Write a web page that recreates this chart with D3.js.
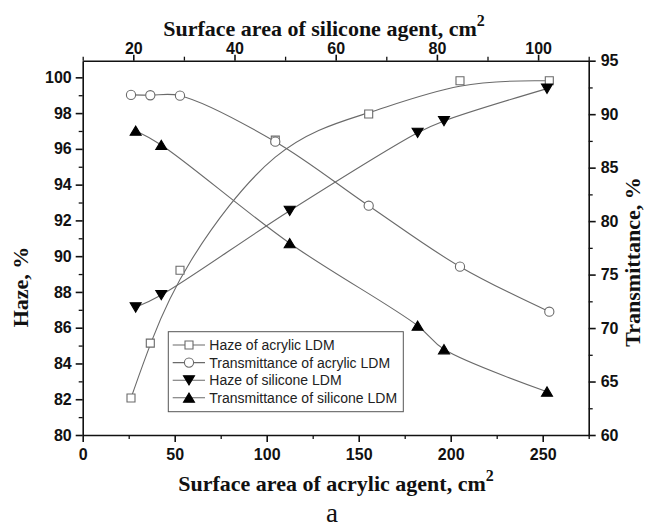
<!DOCTYPE html>
<html>
<head>
<meta charset="utf-8">
<script src="https://cdn.jsdelivr.net/npm/d3@7"></script>
<style>
  html, body { margin: 0; padding: 0; background: #fff; }
  svg { display: block; }
  .tick text { font-family: "Liberation Sans", Arial, sans-serif; font-weight: bold; font-size: 16px; fill: #111; }
  .title { font-family: "Liberation Serif", "Times New Roman", serif; font-weight: bold; font-size: 22px; fill: #111; }
</style>
</head>
<body>
<svg id="chart" width="647" height="528"></svg>
<script>
// Acrylic light-diffusing material (bottom axis)
const acrylicArea  = [26.25, 36.74, 52.88, 104.67, 155.43, 205.05, 253.59];
const acrylicHaze  = [82.07, 85.14, 89.21, 96.49, 97.95, 99.81, 99.81];
const acrylicTrans = [91.80, 91.77, 91.73, 87.43, 81.44, 75.74, 71.53];

// Silicone light-diffusing material (top axis)
const siliconeArea  = [20.47, 25.53, 50.91, 76.19, 81.40, 101.76];
const siliconeHaze  = [87.14, 87.83, 92.54, 96.90, 97.56, 99.37];
const siliconeTrans = [88.45, 87.12, 77.93, 70.22, 68.01, 64.05];

const bottomTicks = [0, 50, 100, 150, 200, 250];
const topTicks    = [20, 40, 60, 80, 100];
const hazeTicks   = [80, 82, 84, 86, 88, 90, 92, 94, 96, 98, 100];
const transTicks  = [60, 65, 70, 75, 80, 85, 90, 95];

const legendLabels = [
  "Haze of acrylic LDM",
  "Transmittance of acrylic LDM",
  "Haze of silicone LDM",
  "Transmittance of silicone LDM"
];

const svg = d3.select("#chart");
const L = 82.7, R = 588.7, T = 60.7, B = 435;

const xBottom = d3.scaleLinear().domain([0, 275]).range([L, R]);
const xTop    = d3.scaleLinear().domain([10, 110]).range([L, R]);
const yHaze   = d3.scaleLinear().domain([80, 100.93]).range([B, T]);
const yTrans  = d3.scaleLinear().domain([60, 95]).range([B, T]);

const axisColor = "#111";
const lineColor = "#6a6a6a";

// minor ticks first, majors on top
function minor(g, axis) {
  g.call(axis.tickFormat(""));
  g.select(".domain").remove();
  g.selectAll("line").attr("stroke", axisColor).attr("stroke-width", 1.3);
}
function major(g, axis) {
  g.call(axis);
  g.select(".domain").attr("stroke", axisColor).attr("stroke-width", 1.6);
  g.selectAll(".tick line").attr("stroke", axisColor).attr("stroke-width", 1.6);
}

// bottom
svg.append("g").attr("transform", `translate(0,${B})`)
  .call(g => minor(g, d3.axisBottom(xBottom).tickValues(d3.range(25, 276, 50)).tickSizeInner(4).tickSizeOuter(0)));
svg.append("g").attr("transform", `translate(0,${B})`)
  .call(g => major(g, d3.axisBottom(xBottom).tickValues(bottomTicks).tickSizeInner(7).tickSizeOuter(0).tickPadding(7)));
// top
svg.append("g").attr("transform", `translate(0,${T})`)
  .call(g => minor(g, d3.axisTop(xTop).tickValues(d3.range(10, 111, 20)).tickSizeInner(4).tickSizeOuter(0)));
svg.append("g").attr("transform", `translate(0,${T})`)
  .call(g => major(g, d3.axisTop(xTop).tickValues(topTicks).tickSizeInner(6).tickSizeOuter(0).tickPadding(1)));
// left
svg.append("g").attr("transform", `translate(${L},0)`)
  .call(g => minor(g, d3.axisLeft(yHaze).tickValues(d3.range(81, 100, 2)).tickSizeInner(4).tickSizeOuter(0)));
svg.append("g").attr("transform", `translate(${L},0)`)
  .call(g => major(g, d3.axisLeft(yHaze).tickValues(hazeTicks).tickSizeInner(7).tickSizeOuter(0).tickPadding(4)));
// right
svg.append("g").attr("transform", `translate(${R},0)`)
  .call(g => minor(g, d3.axisRight(yTrans).tickValues(d3.range(62.5, 95, 5)).tickSizeInner(4).tickSizeOuter(0)));
svg.append("g").attr("transform", `translate(${R},0)`)
  .call(g => major(g, d3.axisRight(yTrans).tickValues(transTicks).tickSizeInner(7).tickSizeOuter(0).tickPadding(5)));

// axis titles
function titleWithSup(x, y, text) {
  const t = svg.append("text").attr("class", "title").attr("x", x).attr("y", y).attr("text-anchor", "middle");
  t.append("tspan").text(text);
  t.append("tspan").attr("dy", -10).attr("font-size", 16).text("2");
}
titleWithSup(336, 491, "Surface area of acrylic agent, cm");
titleWithSup(324, 36, "Surface area of silicone agent, cm");

svg.append("text").attr("class", "title")
  .attr("transform", "translate(28,287) rotate(-90)")
  .attr("text-anchor", "middle").text("Haze, %");
svg.append("text").attr("class", "title")
  .attr("transform", "translate(640,262) rotate(-90)")
  .attr("text-anchor", "middle").text("Transmittance, %");

svg.append("text")
  .attr("x", 332).attr("y", 522).attr("text-anchor", "middle")
  .attr("font-family", "Liberation Serif, Times New Roman, serif")
  .attr("font-size", 27).attr("fill", "#111").text("a");

// markers
const markerShapes = {
  square: (s) => `M${-s},${-s}H${s}V${s}H${-s}Z`,
  circle: (s) => `M${s},0A${s},${s} 0 1,1 ${-s},0A${s},${s} 0 1,1 ${s},0Z`,
  down:   (s) => `M${-s * 1.1},${-s * 0.9}H${s * 1.1}L0,${s * 0.95}Z`,
  up:     (s) => `M${-s * 1.1},${s * 0.9}H${s * 1.1}L0,${-s * 0.95}Z`
};

const series = [
  { xs: acrylicArea, ys: acrylicHaze, x: xBottom, y: yHaze, shape: "square", size: 4, fill: "#fff", stroke: "#6a6a6a", curve: d3.curveBasis },
  { xs: acrylicArea, ys: acrylicTrans, x: xBottom, y: yTrans, shape: "circle", size: 4.6, fill: "#fff", stroke: "#6a6a6a", curve: d3.curveCatmullRom },
  { xs: siliconeArea, ys: siliconeHaze, x: xTop, y: yHaze, shape: "down", size: 5, fill: "#000", stroke: "#000", curve: d3.curveCatmullRom },
  { xs: siliconeArea, ys: siliconeTrans, x: xTop, y: yTrans, shape: "up", size: 5, fill: "#000", stroke: "#000", curve: d3.curveCatmullRom }
];

series.forEach(s => {
  const pts = s.xs.map((v, i) => [s.x(v), s.y(s.ys[i])]);
  svg.append("path")
    .attr("d", d3.line().curve(s.curve)(pts))
    .attr("fill", "none").attr("stroke", lineColor).attr("stroke-width", 1.1);
});
series.forEach(s => {
  svg.append("g").selectAll("path").data(s.xs).join("path")
    .attr("transform", (v, i) => `translate(${s.x(v)},${s.y(s.ys[i])})`)
    .attr("d", markerShapes[s.shape](s.size))
    .attr("fill", s.fill).attr("stroke", s.stroke).attr("stroke-width", 1.1);
});

// legend
const lg = svg.append("g");
lg.append("rect").attr("x", 168.3).attr("y", 331.7).attr("width", 235).attr("height", 80)
  .attr("fill", "#fff").attr("stroke", "#555").attr("stroke-width", 1);
legendLabels.forEach((lab, i) => {
  const cy = 345 + i * 17.6;
  const s = series[i];
  lg.append("line").attr("x1", 172.7).attr("x2", 205).attr("y1", cy).attr("y2", cy)
    .attr("stroke", lineColor).attr("stroke-width", 1.1);
  lg.append("path").attr("transform", `translate(189,${cy})`)
    .attr("d", markerShapes[s.shape](s.size))
    .attr("fill", s.fill).attr("stroke", s.stroke).attr("stroke-width", 1.1);
  lg.append("text").attr("x", 209.3).attr("y", cy + 5)
    .attr("font-family", "Liberation Sans, Arial, sans-serif").attr("font-size", 14)
    .attr("fill", "#222").text(lab);
});
</script>
</body>
</html>
